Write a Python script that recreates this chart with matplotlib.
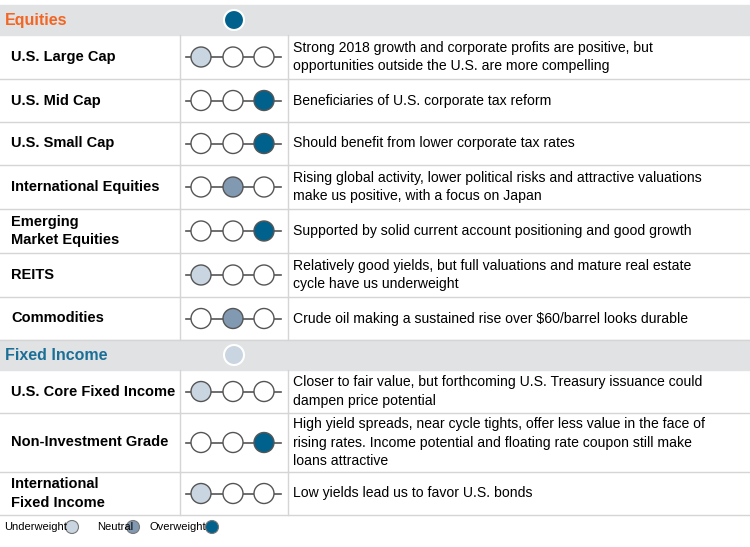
import matplotlib
matplotlib.use("Agg")
import matplotlib.pyplot as plt
from matplotlib.patches import Rectangle, Circle

# data
sections = ["Equities", "Fixed Income"]
section_marks = [2, 0]
eq_labels = ["U.S. Large Cap", "U.S. Mid Cap", "U.S. Small Cap", "International Equities",
             "Emerging\nMarket Equities", "REITS", "Commodities"]
eq_views = [0, 2, 2, 1, 2, 0, 1]
eq_text = ["Strong 2018 growth and corporate profits are positive, but\nopportunities outside the U.S. are more compelling",
           "Beneficiaries of U.S. corporate tax reform",
           "Should benefit from lower corporate tax rates",
           "Rising global activity, lower political risks and attractive valuations\nmake us positive, with a focus on Japan",
           "Supported by solid current account positioning and good growth",
           "Relatively good yields, but full valuations and mature real estate\ncycle have us underweight",
           "Crude oil making a sustained rise over $60/barrel looks durable"]
fi_labels = ["U.S. Core Fixed Income", "Non-Investment Grade", "International\nFixed Income"]
fi_views = [0, 2, 0]
fi_text = ["Closer to fair value, but forthcoming U.S. Treasury issuance could\ndampen price potential",
           "High yield spreads, near cycle tights, offer less value in the face of\nrising rates. Income potential and floating rate coupon still make\nloans attractive",
           "Low yields lead us to favor U.S. bonds"]
legend_names = ["Underweight", "Neutral", "Overweight"]

colors = ["#c9d5e1", "#8299b2", "#00628c"]
head_colors = ["#f26522", "#1b6f97"]

fig = plt.figure(figsize=(7.5, 5.47), dpi=100)
ax = fig.add_axes([0, 0, 1, 1])
ax.set_xlim(0, 750)
ax.set_ylim(547, 0)
ax.axis("off")
font = "Liberation Sans"

def header(y0, y1, name, col, mark):
    ax.add_patch(Rectangle((0, y0), 750, y1 - y0, color="#e1e2e4", zorder=0))
    ax.text(5, (y0 + y1) / 2, name, color=col, fontsize=11.5, fontweight="bold",
            va="center", family=font)
    ax.add_patch(Circle((234, (y0 + y1) / 2), 10, facecolor=colors[mark],
                        edgecolor="white", lw=1.5, zorder=3))

def rows(y0, heights, labels, views, texts):
    y = y0
    for h, lab, v, t in zip(heights, labels, views, texts):
        yc = y + h / 2
        ax.text(11, yc, lab, fontsize=10.5, fontweight="bold", va="center",
                family=font, linespacing=1.45)
        ax.plot([186, 281], [yc, yc], color="#555555", lw=1.2, zorder=1)
        for i, cx in enumerate([201, 233, 264]):
            fc = colors[v] if i == v else "white"
            ax.add_patch(Circle((cx, yc), 10, facecolor=fc, edgecolor="#555555",
                                lw=1, zorder=2))
        ax.text(293, yc, t, fontsize=10.1, va="center", family=font, linespacing=1.45)
        ax.plot([0, 750], [y + h, y + h], color="#d5d5d5", lw=1)
        ax.plot([180, 180], [y, y + h], color="#d5d5d5", lw=1)
        ax.plot([288, 288], [y, y + h], color="#d5d5d5", lw=1)
        y += h
    return y

header(5, 35, sections[0], head_colors[0], section_marks[0])
y = rows(35, [44, 43, 43, 44, 44, 44, 43], eq_labels, eq_views, eq_text)
header(y, y + 30, sections[1], head_colors[1], section_marks[1])
rows(y + 30, [43, 59, 43], fi_labels, fi_views, fi_text)

# legend
starts = [4, 97, 150]
circ_x = [72, 133, 212]
for name, c, sx, cx in zip(legend_names, colors, starts, circ_x):
    ax.text(sx, 527, name, fontsize=8, va="center", family=font)
    ax.add_patch(Circle((cx, 527), 6.5, facecolor=c, edgecolor="#777777", lw=0.8))

fig.savefig("out.png", dpi=100)
